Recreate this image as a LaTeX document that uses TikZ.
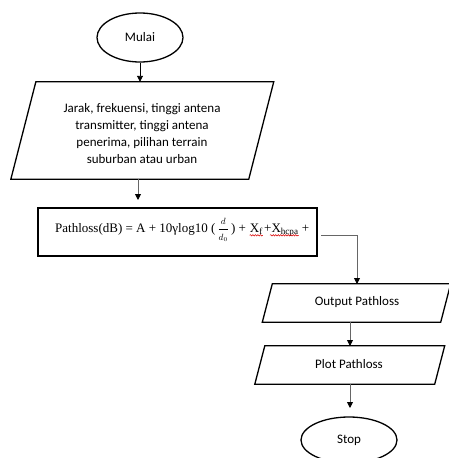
\documentclass[tikz,border=0pt]{standalone}
\usepackage{fontspec}
\setmainfont{Carlito}
\newfontfamily\tnr{Liberation Serif}
\usetikzlibrary{shapes.geometric,arrows.meta,decorations.pathmorphing,calc}
\begin{document}
\begin{tikzpicture}[x=1pt,y=-1pt,
  shapeline/.style={draw=black,line width=1.3pt},
  term/.style={ellipse,shapeline,inner sep=0pt,font=\fontsize{13}{17}\selectfont},
  boxarea/.style={rectangle,inner sep=0pt},
  lbl/.style={font=\fontsize{13}{17}\selectfont,align=center,inner sep=0pt},
  ftxt/.style={font=\tnr\fontsize{13}{15}\selectfont,inner sep=0pt},
  conn/.style={draw=black!60,line width=0.9pt,-{Triangle[color=black,length=6pt,width=6pt]}},
  squig/.style={draw=red!85!black,line width=0.5pt,decorate,decoration={snake,amplitude=0.7pt,segment length=2.5pt}}
]
\useasboundingbox (0,0) rectangle (449,458);

% start
\node[term,minimum width=86pt,minimum height=49pt] (mulai) at (140,37.5) {Mulai};

% input parallelogram
\node[boxarea,minimum width=237.5pt,minimum height=97pt] (in1) at (142.3,130.5) {};
\draw[shapeline] ($(in1.north west)+(12.5,0)$) -- ($(in1.north east)+(12.5,0)$)
  -- ($(in1.south east)+(-12.5,0)$) -- ($(in1.south west)+(-12.5,0)$) -- cycle;
\node[lbl] (in1txt) at (142,133.5) {Jarak, frekuensi, tinggi antena\\transmitter, tinggi antena\\penerima, pilihan terrain\\suburban atau urban};

% process rectangle
\node[rectangle,shapeline,minimum width=279pt,minimum height=48pt,inner sep=0pt] (proc) at (177.5,232) {};
\node[ftxt,anchor=base west] (f1) at (55,232.5) {Pathloss(dB) = A + 10γlog10 (\,$\displaystyle\frac{\scriptstyle d}{\scriptstyle d_0}$\,) +};
\node[ftxt,anchor=base west] (xf) at ([xshift=3.5pt]f1.base east) {X\textsubscript{f}};
\node[ftxt,anchor=base west] (xh) at ([xshift=1pt]xf.base east) {+X\textsubscript{hcpa}};
\node[ftxt,anchor=base west] (pl) at ([xshift=3pt]xh.base east) {+};
\draw[squig] ([yshift=-2.8pt]xf.base west) -- ([yshift=-2.8pt]xf.base east);
\draw[squig] ([xshift=6pt,yshift=-2.8pt]xh.base west) -- ([yshift=-2.8pt]xh.base east);

% output parallelogram
\node[boxarea,minimum width=178pt,minimum height=38pt] (out) at (356.5,303) {};
\draw[shapeline] ($(out.north west)+(5,0)$) -- ($(out.north east)+(5,0)$)
  -- ($(out.south east)+(-5,0)$) -- ($(out.south west)+(-5,0)$) -- cycle;
\node[lbl] (outtxt) at (357,302) {Output Pathloss};

% plot parallelogram
\node[boxarea,minimum width=179.5pt,minimum height=38pt] (plot) at (349.75,365) {};
\draw[shapeline] ($(plot.north west)+(5,0)$) -- ($(plot.north east)+(5,0)$)
  -- ($(plot.south east)+(-5,0)$) -- ($(plot.south west)+(-5,0)$) -- cycle;
\node[lbl] (plottxt) at (349,364) {Plot Pathloss};

% stop
\node[term,minimum width=96pt,minimum height=46pt] (stop) at (349,440) {Stop};
\coordinate (stopin) at (350,408);

% connectors
\draw[conn,draw=black] (mulai) -- (mulai |- in1.north);
\draw[conn] (138,179) -- (138,200);
\coordinate (procout) at (321,235);
\draw[conn] (procout) -| (357,284);
\draw[conn] (350,322) -- (350,346);
\draw[conn] (350,384) -- (stopin);
\end{tikzpicture}
\end{document}
